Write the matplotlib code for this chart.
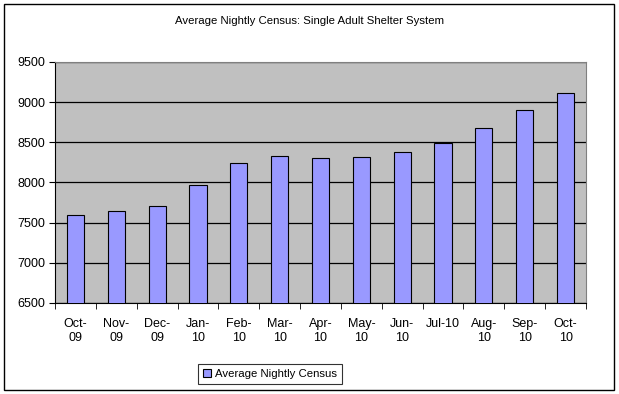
import numpy as np
import matplotlib
matplotlib.use("Agg")
import matplotlib.pyplot as plt
from matplotlib.patches import Rectangle

plt.rcParams['font.family'] = ['Liberation Sans', 'DejaVu Sans']

# ---------------- DATA ----------------
months = ["Oct-\n09", "Nov-\n09", "Dec-\n09", "Jan-\n10", "Feb-\n10", "Mar-\n10", "Apr-\n10",
          "May-\n10", "Jun-\n10", "Jul-10\n", "Aug-\n10", "Sep-\n10", "Oct-\n10"]
census = [7595, 7642, 7708, 7969, 8240, 8327, 8302, 8314, 8377, 8496, 8675, 8899, 9111]

fig = plt.figure(figsize=(6.19, 3.94), dpi=100)
ax = fig.add_axes([0.0889, 0.2310, 0.8578, 0.6117])
ax.set_facecolor("#c0c0c0")

x = np.arange(len(census))
ax.bar(x, census, width=0.42, color="#9999ff", edgecolor="black", linewidth=0.8,
       label="Average Nightly Census", zorder=3)

ax.set_ylim(6500, 9500)
ax.set_yticks(np.arange(6500, 9501, 500))
ax.set_xlim(-0.5, len(census) - 0.5)
ax.yaxis.grid(True, color="black", linewidth=0.9, zorder=1)

ax.set_xticks(x)
ax.set_xticklabels(months, fontsize=9, linespacing=1.2)
ax.tick_params(axis="x", length=0, pad=11)
ax.set_xticks(np.arange(-0.5, len(census)), minor=True)
ax.tick_params(axis="x", which="minor", length=4, direction="out", color="black")
ax.tick_params(axis="y", labelsize=9, length=4, direction="out", pad=3)

for s in ["top", "right"]:
    ax.spines[s].set_color("#808080")
ax.spines["left"].set_color("black")
ax.spines["bottom"].set_color("black")

fig.text(0.5, 1 - 21 / 394, "Average Nightly Census: Single Adult Shelter System",
         ha="center", va="center", fontsize=8.2)

leg = ax.legend(loc="center", bbox_to_anchor=(270 / 619, 1 - 374 / 394), bbox_transform=fig.transFigure,
                fontsize=8.2, frameon=True, fancybox=False, edgecolor="black",
                handlelength=0.7, handleheight=0.7, handletextpad=0.3, borderpad=0.45,
                borderaxespad=0)
leg.get_frame().set_linewidth(0.8)

# outer chart border
fig.patches.append(Rectangle((4 / 619, 4 / 394), 610 / 619, 386 / 394, transform=fig.transFigure,
                             fill=False, edgecolor="black", linewidth=1.0))

fig.savefig("out.png", dpi=100)
